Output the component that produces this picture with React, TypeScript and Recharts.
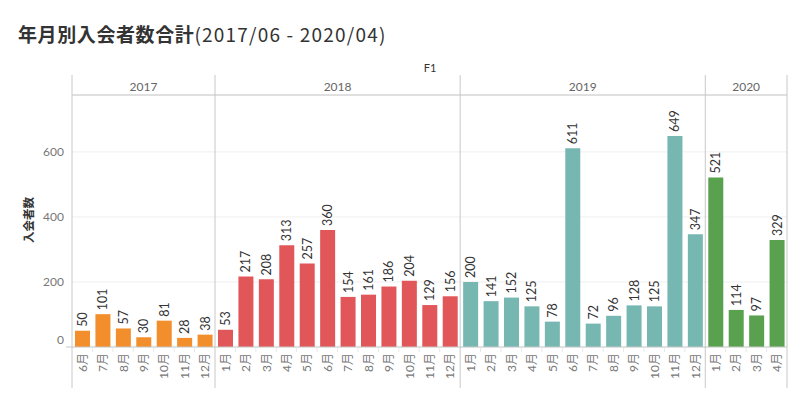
import React from 'react';
import { BarChart, Bar, XAxis, YAxis, CartesianGrid, Cell, LabelList } from 'recharts';

// 年別の月ラベルと入会者数
const years = ['2017', '2018', '2019', '2020'];
const months2017 = ['6月', '7月', '8月', '9月', '10月', '11月', '12月'];
const monthsFull = ['1月', '2月', '3月', '4月', '5月', '6月', '7月', '8月', '9月', '10月', '11月', '12月'];
const months2020 = ['1月', '2月', '3月', '4月'];

const values2017 = [50, 101, 57, 30, 81, 28, 38];
const values2018 = [53, 217, 208, 313, 257, 360, 154, 161, 186, 204, 129, 156];
const values2019 = [200, 141, 152, 125, 78, 611, 72, 96, 128, 125, 649, 347];
const values2020 = [521, 114, 97, 329];

const yearColors = ['#F28E2B', '#E15759', '#76B7B2', '#59A14F'];
const yTicks = [0, 200, 400, 600];

const monthsByYear = [months2017, monthsFull, monthsFull, months2020];
const valuesByYear = [values2017, values2018, values2019, values2020];

const data = years.flatMap((year, yi) =>
  valuesByYear[yi].map((value, mi) => ({
    key: `${year}-${monthsByYear[yi][mi]}`,
    year,
    yearIndex: yi,
    month: monthsByYear[yi][mi],
    value,
  }))
);

const W = 800;
const H = 400;
const PLOT_LEFT = 72;
const PLOT_TOP = 95;
const X_AXIS_H = 53;
const AXIS_Y = H - X_AXIS_H;
const HEADER_TOP = 75;
const LINE_BOTTOM = 388;
const BORDER = '#c8c8c8';
const FONT = "Lato, 'Noto Sans CJK JP', sans-serif";

const MonthTick = (props: any) => {
  const { x, payload, index, width, visibleTicksCount } = props;
  const band = payload && payload.offset ? payload.offset * 2 : width / visibleTicksCount;
  const d = data[index];
  if (!d) return null;
  const left = x - band / 2;
  const isFirst = index === 0 || data[index - 1].year !== d.year;
  const isLast = index === data.length - 1;
  const count = valuesByYear[d.yearIndex].length;
  const ty = AXIS_Y + 6;
  return (
    <g>
      {index > 0 && !isFirst && (
        <line x1={left} x2={left} y1={AXIS_Y} y2={AXIS_Y + 5} stroke="#e8e8e8" />
      )}
      <text
        x={x}
        y={ty}
        transform={`rotate(-90 ${x} ${ty})`}
        textAnchor="end"
        dominantBaseline="central"
        fontSize={12}
        fill="#777"
        fontFamily={FONT}
      >
        {d.month}
      </text>
      {isFirst && (
        <g>
          <line x1={left} x2={left} y1={HEADER_TOP} y2={LINE_BOTTOM} stroke={BORDER} />
          <text
            x={left + (count * band) / 2}
            y={86}
            textAnchor="middle"
            dominantBaseline="central"
            fontSize={12}
            fill="#666"
            fontFamily={FONT}
          >
            {d.year}
          </text>
        </g>
      )}
      {isLast && (
        <g>
          <line x1={x + band / 2} x2={x + band / 2} y1={HEADER_TOP} y2={LINE_BOTTOM} stroke={BORDER} />
          <line x1={x + band / 2 - data.length * band} x2={x + band / 2} y1={PLOT_TOP} y2={PLOT_TOP} stroke={BORDER} />
        </g>
      )}
    </g>
  );
};

const ValueTick = (props: any) => {
  const { x, y, payload } = props;
  const isZero = payload.value === 0;
  return (
    <g>
      {isZero && <line x1={66} x2={PLOT_LEFT} y1={y} y2={y} stroke={BORDER} />}
      <text
        x={x}
        y={isZero ? y - 8 : y}
        textAnchor="end"
        dominantBaseline="central"
        fontSize={12}
        fill="#777"
        fontFamily={FONT}
      >
        {payload.value}
      </text>
    </g>
  );
};

const BarValueLabel = (props: any) => {
  const { x, y, width, value } = props;
  const cx = x + width / 2;
  const cy = y - 4;
  return (
    <text
      x={cx}
      y={cy}
      transform={`rotate(-90 ${cx} ${cy})`}
      textAnchor="start"
      dominantBaseline="central"
      fontSize={12.5}
      fill="#333"
      fontFamily={FONT}
    >
      {value}
    </text>
  );
};

const App: React.FC = () => {
  return (
    <div style={{ position: 'absolute', left: 0, top: 0, width: W, height: H, fontFamily: FONT, background: '#fff' }}>
      <div
        style={{
          position: 'absolute',
          left: 18,
          top: 23,
          fontSize: 19,
          lineHeight: '22px',
          color: '#333',
          whiteSpace: 'nowrap',
          fontFamily: "'Noto Sans CJK JP', sans-serif",
        }}
      >
        <span style={{ fontWeight: 700, letterSpacing: 0.6 }}>年月別入会者数合計</span>
        <span style={{ fontWeight: 400, letterSpacing: 1.2 }}>(2017/06 - 2020/04)</span>
      </div>
      <div
        style={{
          position: 'absolute',
          left: 430,
          top: 67,
          transform: 'translate(-50%, -50%)',
          fontSize: 11,
          color: '#333',
        }}
      >
        F1
      </div>
      <div
        style={{
          position: 'absolute',
          left: 28,
          top: 220,
          transform: 'translate(-50%, -50%) rotate(-90deg)',
          fontSize: 11.5,
          fontWeight: 700,
          color: '#333',
          whiteSpace: 'nowrap',
          fontFamily: "'Noto Sans CJK JP', sans-serif",
        }}
      >
        入会者数
      </div>
      <BarChart
        width={W}
        height={H}
        data={data}
        margin={{ top: PLOT_TOP, right: 13, left: 0, bottom: 0 }}
      >
        <CartesianGrid horizontal vertical={false} stroke="#efefef" />
        <XAxis
          dataKey="key"
          height={X_AXIS_H}
          interval={0}
          tickLine={false}
          axisLine={{ stroke: BORDER }}
          tick={<MonthTick />}
        />
        <YAxis
          width={PLOT_LEFT}
          domain={[0, 775]}
          ticks={yTicks}
          axisLine={false}
          tickLine={false}
          tick={<ValueTick />}
        />
        <Bar dataKey="value" barSize={15} isAnimationActive={false}>
          {data.map((d, i) => (
            <Cell key={`cell-${i}`} fill={yearColors[d.yearIndex]} />
          ))}
          <LabelList dataKey="value" content={<BarValueLabel />} />
        </Bar>
      </BarChart>
    </div>
  );
};

export default App;
